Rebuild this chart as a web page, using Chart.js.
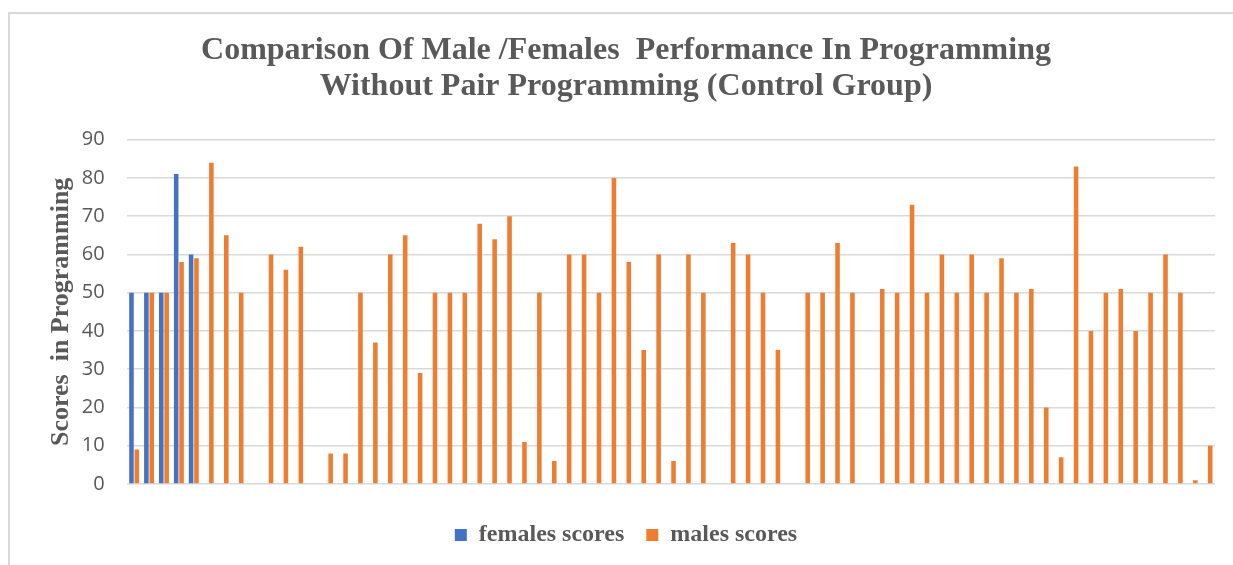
<!DOCTYPE html>
<html>
<head>
<meta charset="utf-8">
<script src="https://cdn.jsdelivr.net/npm/chart.js@4.4.1/dist/chart.umd.min.js"></script>
<style>
  html, body { margin: 0; padding: 0; background: #ffffff; }
  #wrap { position: relative; width: 1233px; height: 565px; overflow: hidden; }
  #frame {
    position: absolute; left: 8px; top: 12px; width: 1260px; height: 600px;
    border-left: 2px solid #d9d9d9; border-top: 2px solid #d9d9d9;
    box-sizing: border-box; pointer-events: none;
  }
  canvas { position: absolute; left: 0; top: 0; }
</style>
</head>
<body>
<div id="wrap">
  <div id="frame"></div>
  <canvas id="chart" width="1233" height="565"></canvas>
</div>
<script>
// Student numbers along the category axis (not labelled on the chart)
const students = Array.from({ length: 73 }, (_, i) => String(i + 1));

// Scores of the female students (only the first five students are female)
const femaleScores = [50, 50, 50, 81, 60,
  null, null, null, null, null, null, null, null, null, null, null, null, null, null, null,
  null, null, null, null, null, null, null, null, null, null, null, null, null, null, null,
  null, null, null, null, null, null, null, null, null, null, null, null, null, null, null,
  null, null, null, null, null, null, null, null, null, null, null, null, null, null, null,
  null, null, null, null, null, null, null, null];

// Scores of the male students
const maleScores = [
  9, 50, 50, 58, 59, 84, 65, 50, null, 60,
  56, 62, null, 8, 8, 50, 37, 60, 65, 29,
  50, 50, 50, 68, 64, 70, 11, 50, 6, 60,
  60, 50, 80, 58, 35, 60, 6, 60, 50, null,
  63, 60, 50, 35, null, 50, 50, 63, 50, null,
  51, 50, 73, 50, 60, 50, 60, 50, 59, 50,
  51, 20, 7, 83, 40, 50, 51, 40, 50, 60,
  50, 1, 10
];

const seriesNames = ['females scores', 'males scores'];
const titleLines = ['Comparison Of Male /Females  Performance In Programming',
                    'Without Pair Programming (Control Group)'];
const yAxisTitle = 'Scores  in Programming';
const yTicks = { min: 0, max: 90, step: 10 };

const textGray = '#595959';
const serif = '"Liberation Serif", "Times New Roman", serif';

new Chart(document.getElementById('chart'), {
  type: 'bar',
  data: {
    labels: students,
    datasets: [
      { label: seriesNames[0], data: femaleScores, backgroundColor: '#4472C4', borderWidth: 0 },
      { label: seriesNames[1], data: maleScores, backgroundColor: '#ED7D31', borderWidth: 0 }
    ]
  },
  options: {
    responsive: false,
    animation: false,
    events: [],
    categoryPercentage: 0.72,
    barPercentage: 0.85,
    layout: { padding: { left: 37, right: 18, top: 0, bottom: 8 } },
    plugins: {
      title: {
        display: true,
        text: titleLines,
        color: textGray,
        font: { family: serif, size: 32, weight: 'bold', lineHeight: 1.12 },
        padding: { top: 33, bottom: 35 }
      },
      legend: {
        display: true,
        position: 'bottom',
        labels: {
          color: textGray,
          boxWidth: 12,
          boxHeight: 12,
          padding: 22,
          font: { family: serif, size: 24, weight: 'bold' }
        }
      },
      tooltip: { enabled: false }
    },
    scales: {
      x: {
        ticks: { display: false },
        grid: { display: false, drawTicks: false },
        border: { display: false },
        afterFit: (scale) => { scale.height = 17; }
      },
      y: {
        min: yTicks.min,
        max: yTicks.max,
        ticks: {
          stepSize: yTicks.step,
          color: textGray,
          padding: 22,
          font: { family: '"Open Sans", sans-serif', size: 20 }
        },
        grid: { color: '#d9d9d9', lineWidth: 1.5, drawTicks: false },
        border: { display: false },
        title: {
          display: true,
          text: yAxisTitle,
          color: textGray,
          font: { family: serif, size: 26, weight: 'bold', lineHeight: 1.2 },
          padding: { top: 9, bottom: 0 }
        },
        afterFit: (scale) => { scale.width = 89.7; }
      }
    }
  }
});
</script>
</body>
</html>
